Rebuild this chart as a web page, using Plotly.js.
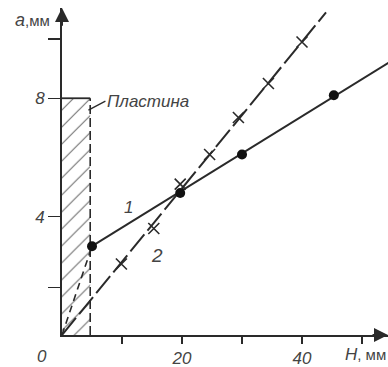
<!DOCTYPE html>
<html>
<head>
<meta charset="utf-8">
<script src="https://cdn.plot.ly/plotly-3.0.1.min.js"></script>
<style>html,body{margin:0;padding:0;background:#fff;}#chart{width:388px;height:367px;}</style>
</head>
<body>
<div id="chart"></div>
<script>
// ---- data ----
// curve 1 (solid, dots)
const curve1X = [5, 19.7, 30, 45.3];
const curve1Y = [3.0, 4.8, 6.1, 8.1];
// curve 1 drawn line: from first point to right edge
const curve1LineX = [5, 54.4];
const curve1LineY = [3.0, 9.2];
// curve 1 dashed part inside the plate
const curve1InsideX = [0, 5];
const curve1InsideY = [0, 3.0];
// curve 2 (dashed, crosses)
const curve2X = [9.9, 15.3, 19.7, 24.6, 29.4, 34.4, 40];
const curve2Y = [2.4, 3.6, 5.1, 6.1, 7.35, 8.5, 9.9];
const curve2LineX = [0, 44];
const curve2LineY = [0, 10.9];
// plate (Пластина)
const plateX = [0, 4.7];
const plateY = [0, 8];
// ticks
const xTickVals = [10, 20, 30, 40, 50];
const xTickText = ['', '20', '', '40', ''];
const yTickVals = [1.6, 4, 8, 10];
const yTickText = ['', '4', '8', ''];

const ink = '#2a2a2a';
const fam = 'Liberation Sans, Arial, sans-serif';

const traces = [
  { // hatched plate
    x: [plateX[0], plateX[1], plateX[1], plateX[0], plateX[0]],
    y: [plateY[0], plateY[0], plateY[1], plateY[1], plateY[0]],
    mode: 'lines', fill: 'toself', line: {width: 0, color: 'rgba(0,0,0,0)'},
    fillcolor: 'rgba(0,0,0,0)',
    fillpattern: {shape: '/', size: 12, solidity: 0.1, fgcolor: '#777', bgcolor: 'rgba(255,255,255,0)'},
    hoverinfo: 'skip', showlegend: false
  },
  { // plate top (solid)
    x: [plateX[0], plateX[1]], y: [plateY[1], plateY[1]],
    mode: 'lines', line: {color: ink, width: 1.8}, showlegend: false
  },
  { // plate right edge (dashed)
    x: [plateX[1], plateX[1]], y: [plateY[0], plateY[1]],
    mode: 'lines', line: {color: ink, width: 1.6, dash: '9px,4px'}, showlegend: false
  },
  { // curve 1 inside plate (dashed)
    x: curve1InsideX, y: curve1InsideY,
    mode: 'lines', line: {color: ink, width: 1.6, dash: '7px,5px'}, showlegend: false
  },
  { // curve 2 line
    x: curve2LineX, y: curve2LineY,
    mode: 'lines', line: {color: ink, width: 2, dash: '22px,5px'}, showlegend: false
  },
  { // curve 2 crosses
    x: curve2X, y: curve2Y,
    mode: 'markers', marker: {symbol: 'x-thin-open', size: 11, line: {color: ink, width: 1.6}, color: ink},
    showlegend: false
  },
  { // curve 1 line
    x: curve1LineX, y: curve1LineY,
    mode: 'lines', line: {color: ink, width: 2}, showlegend: false
  },
  { // curve 1 dots
    x: curve1X, y: curve1Y,
    mode: 'markers', marker: {symbol: 'circle', size: 10, color: '#111'}, showlegend: false
  }
];

const layout = {
  width: 388, height: 367,
  margin: {l: 62, r: 0, t: 8, b: 32},
  paper_bgcolor: '#fff', plot_bgcolor: '#fff',
  showlegend: false,
  font: {family: fam, color: ink},
  xaxis: {
    range: [0, 54.33], showgrid: false, zeroline: false,
    showline: true, linecolor: ink, linewidth: 2,
    ticks: 'outside', ticklen: 7, tickwidth: 1.5, tickcolor: ink,
    tickvals: xTickVals, ticktext: xTickText,
    tickfont: {family: fam, size: 17, style: 'italic', color: '#444'}
  },
  yaxis: {
    range: [0, 11.05], showgrid: false, zeroline: false,
    showline: true, linecolor: ink, linewidth: 2,
    ticks: 'outside', ticklen: 12, tickwidth: 1.5, tickcolor: ink,
    tickvals: yTickVals, ticktext: yTickText,
    tickfont: {family: fam, size: 17, style: 'italic', color: '#444'}
  },
  annotations: [
    { // y axis arrow
      x: 0, y: 11.05, ax: 0, ay: 10.4, xref: 'x', yref: 'y', axref: 'x', ayref: 'y',
      showarrow: true, arrowhead: 2, arrowsize: 1.4, arrowwidth: 2, arrowcolor: ink, text: ''
    },
    { // x axis arrow
      x: 54.33, y: 0, ax: 51.5, ay: 0, xref: 'x', yref: 'y', axref: 'x', ayref: 'y',
      showarrow: true, arrowhead: 2, arrowsize: 1.4, arrowwidth: 2, arrowcolor: ink, text: ''
    },
    { // Пластина label with leader
      x: 4.4, y: 7.6, xref: 'x', yref: 'y', ax: 17, ay: -9,
      showarrow: true, arrowhead: 0, arrowwidth: 1.3, arrowcolor: ink,
      text: '<i>Пластина</i>', xanchor: 'left', yanchor: 'middle',
      font: {family: fam, size: 17, color: '#444'}
    },
    {x: 11.05, y: 4.32, xref: 'x', yref: 'y', text: '<i>1</i>', showarrow: false,
     font: {family: fam, size: 17, color: '#444'}},
    {x: 15.9, y: 2.67, xref: 'x', yref: 'y', text: '<i>2</i>', showarrow: false,
     font: {family: fam, size: 19, color: '#444'}},
    {x: -0.089, y: 0.963, xref: 'paper', yref: 'paper', text: '<i><span style="font-size:18px">a</span></i>,мм', showarrow: false,
     xanchor: 'center', yanchor: 'middle', font: {family: fam, size: 15, color: '#444'}},
    {x: 1.0, y: -0.06, xref: 'paper', yref: 'paper', text: '<i><span style="font-size:17px">H</span></i>, мм', showarrow: false,
     xanchor: 'right', yanchor: 'middle', font: {family: fam, size: 15, color: '#444'}},
    {x: -0.061, y: -0.067, xref: 'paper', yref: 'paper', text: '<i>0</i>', showarrow: false,
     xanchor: 'center', yanchor: 'middle', font: {family: fam, size: 17, color: '#444'}}
  ]
};

Plotly.newPlot('chart', traces, layout, {staticPlot: true, displayModeBar: false});
</script>
</body>
</html>
